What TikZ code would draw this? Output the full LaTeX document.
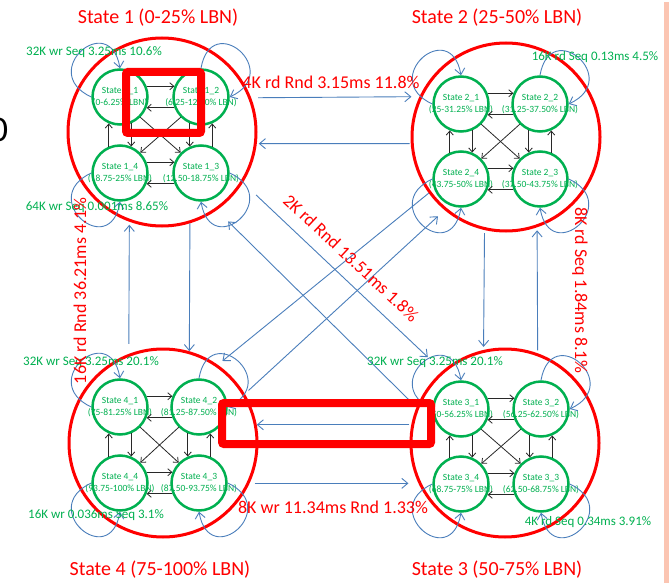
\documentclass[tikz,border=0pt]{standalone}
\usepackage{fontspec}
\setmainfont{Carlito}
\usetikzlibrary{arrows.meta}
\definecolor{LbnRed}{RGB}{255,0,0}
\definecolor{LbnGreen}{RGB}{0,176,80}
\definecolor{LbnBlue}{RGB}{74,126,187}
\definecolor{LbnInk}{RGB}{40,40,40}
\definecolor{LbnPeach}{RGB}{251,197,178}
\tikzset{
  lbn/state/.style={circle, draw=LbnRed, line width=3pt, minimum size=188pt, inner sep=0pt},
  lbn/sub/.style={
    circle,
    draw=LbnGreen,
    line width=2.5pt,
    minimum size=55pt,
    inner sep=0pt,
    align=center,
    text=LbnGreen,
    font=\fontsize{9.5}{12.5}\selectfont
  },
  lbn/move/.style={-{Straight Barb[length=4pt,width=7pt]}, line width=0.8pt, draw=LbnInk},
  lbn/jump/.style={-{Straight Barb[length=6pt,width=10pt]}, line width=0.9pt, draw=LbnBlue, shorten <=3pt, shorten >=3pt},
  lbn/selfloop/.style={-{Straight Barb[length=6pt,width=10pt]}, line width=0.9pt, draw=LbnBlue, out distance=60pt, in distance=60pt},
  lbn/title/.style={text=LbnRed, font=\fontsize{20}{24}\selectfont},
  lbn/rate/.style={text=LbnRed, font=\fontsize{18}{22}\selectfont},
  lbn/mix/.style={text=LbnGreen, font=\fontsize{13}{16}\selectfont},
  lbn/mark/.style={draw=LbnRed, line width=8pt, rounded corners=2pt}
}
% two centred lines that may stick out of a small circle
\newcommand{\subtxt}[2]{\makebox[0pt]{#1}\\\makebox[0pt]{#2}}

\begin{document}
\begin{tikzpicture}[x=1pt,y=-1pt]
  \fill[white] (0,0) rectangle (669,583);
  \useasboundingbox (0,0) rectangle (669,583);
  \fill[LbnPeach] (664,2) rectangle (669,583);
  \node[font=\fontsize{36}{40}\selectfont] (cut) at (-1,130) {0};

  % LBN ranges
  \node[lbn/state] (st1) at (162,132) {};
  \node[lbn/state] (st2) at (506,137) {};
  \node[lbn/state] (st3) at (505,443) {};
  \node[lbn/state] (st4) at (163,443) {};

  \node[lbn/title] (t1) at (158,18) {State 1 (0-25\% LBN)};
  \node[lbn/title] (t2) at (497,18) {State 2 (25-50\% LBN)};
  \node[lbn/title] (t3) at (497,570) {State 3 (50-75\% LBN)};
  \node[lbn/title] (t4) at (160,570) {State 4 (75-100\% LBN)};

  % sub-ranges
  \node[lbn/sub] (s11) at (120,97) {\subtxt{State 1\_1}{(0-6.25\% LBN)}};
  \node[lbn/sub] (s12) at (201,97) {\subtxt{State 1\_2}{(6.25-12.50\% LBN)}};
  \node[lbn/sub] (s13) at (201,173) {\subtxt{State 1\_3}{(12.50-18.75\% LBN)}};
  \node[lbn/sub] (s14) at (120,173) {\subtxt{State 1\_4}{(18.75-25\% LBN)}};

  \node[lbn/sub] (s21) at (461,104) {\subtxt{State 2\_1}{(25-31.25\% LBN)}};
  \node[lbn/sub] (s22) at (540,104) {\subtxt{State 2\_2}{(31.25-37.50\% LBN)}};
  \node[lbn/sub] (s23) at (540,179) {\subtxt{State 2\_3}{(37.50-43.75\% LBN)}};
  \node[lbn/sub] (s24) at (461,179) {\subtxt{State 2\_4}{(43.75-50\% LBN)}};

  \node[lbn/sub] (s31) at (461,409) {\subtxt{State 3\_1}{(50-56.25\% LBN)}};
  \node[lbn/sub] (s32) at (541,409) {\subtxt{State 3\_2}{(56.25-62.50\% LBN)}};
  \node[lbn/sub] (s33) at (541,484) {\subtxt{State 3\_3}{(62.50-68.75\% LBN)}};
  \node[lbn/sub] (s34) at (461,484) {\subtxt{State 3\_4}{(68.75-75\% LBN)}};

  \node[lbn/sub] (s41) at (120,407) {\subtxt{State 4\_1}{(75-81.25\% LBN)}};
  \node[lbn/sub] (s42) at (199,407) {\subtxt{State 4\_2}{(81.25-87.50\% LBN)}};
  \node[lbn/sub] (s43) at (199,483) {\subtxt{State 4\_3}{(87.50-93.75\% LBN)}};
  \node[lbn/sub] (s44) at (120,483) {\subtxt{State 4\_4}{(93.75-100\% LBN)}};

  % moves inside each range, and the self loops
  \foreach \s in {1,2,3,4}{
    \draw[lbn/move] (s\s1.22) -- (s\s2.158);
    \draw[lbn/move] (s\s2.-158) -- (s\s1.-22);
    \draw[lbn/move] (s\s4.22) -- (s\s3.158);
    \draw[lbn/move] (s\s3.-158) -- (s\s4.-22);
    \draw[lbn/move] (s\s4.113) -- (s\s1.-113);
    \draw[lbn/move] (s\s1.-67) -- (s\s4.67);
    \draw[lbn/move] (s\s2.-113) -- (s\s3.113);
    \draw[lbn/move] (s\s3.67) -- (s\s2.-67);
    \draw[lbn/move] (s\s1.-45) -- (s\s3.135);
    \draw[lbn/move] (s\s2.-135) -- (s\s4.45);
    \draw[lbn/selfloop] (s\s1.180) to[out=155,in=100] (s\s1.90);
    \draw[lbn/selfloop] (s\s2.90) to[out=80,in=25] (s\s2.0);
    \draw[lbn/selfloop] (s\s3.0) to[out=-25,in=-80] (s\s3.270);
    \draw[lbn/selfloop] (s\s4.180) to[out=205,in=260] (s\s4.270);
  }

  % moves between ranges
  \draw[lbn/jump, shorten <=7pt, shorten >=8pt] (st1.21) -- (st2.155);
  \draw[lbn/jump, shorten <=1pt, shorten >=2pt] (st2.184) -- (st1.-7);
  \draw[lbn/jump, shorten <=2pt, shorten >=0pt] (st3.169) -- (st4.11);
  \draw[lbn/jump, shorten <=5pt, shorten >=10pt] (st4.-25) -- (st3.205);
  \draw[lbn/jump, shorten <=10pt] (st4.111) -- (st1.250);
  \draw[lbn/jump, shorten <=0pt, shorten >=0pt] (st1.287) -- (st4.74);
  \draw[lbn/jump] (st2.257) -- (st3.103);
  \draw[lbn/jump] (st3.70) -- (st2.289);
  \draw[lbn/jump, shorten <=18pt, shorten >=20pt] (st1.-32) -- (st3.131);
  \draw[lbn/jump, shorten <=2pt, shorten >=16pt] (st3.158) -- (st1.-55);
  \draw[lbn/jump, shorten <=0pt, shorten >=6pt] (st2.216) -- (st4.55);
  \draw[lbn/jump, shorten <=5pt, shorten >=9pt] (st4.31) -- (st2.230);

  % request mixes
  \node[lbn/mix] (m11) at (94,52) {32K wr Seq 3.25ms 10.6\%};
  \node[lbn/mix] (m12) at (595,57) {16K rd Seq 0.13ms 4.5\%};
  \node[lbn/mix] (m13) at (97,207) {64K wr Seq 0.001ms 8.65\%};
  \node[lbn/mix] (m41) at (91,362) {32K wr Seq 3.25ms 20.1\%};
  \node[lbn/mix] (m44) at (96,515) {16K wr 0.036ms Seq 3.1\%};
  \node[lbn/mix] (m31) at (435,362) {32K wr Seq 3.25ms 20.1\%};
  \node[lbn/mix] (m33) at (588,522) {4K rd Seq 0.34ms 3.91\%};

  \node[lbn/rate] (r12) at (331,82) {4K rd Rnd 3.15ms 11.8\%};
  \node[lbn/rate, rotate=-43] (r13) at (351,258) {2K rd Rnd 13.51ms 1.8\%};
  \node[lbn/rate, rotate=90] (r14) at (80,291) {16K rd Rnd 36.21ms 4.1\%};
  \node[lbn/rate, rotate=-90] (r23) at (580,290) {8K rd Seq 1.84ms 8.1\%};
  \node[lbn/rate] (r43) at (333,507) {8K wr 11.34ms Rnd 1.33\%};

  % highlights
  \draw[lbn/mark] (126,72) rectangle (201,133);
  \draw[lbn/mark] (222,403) rectangle (431,444);
\end{tikzpicture}
\end{document}
